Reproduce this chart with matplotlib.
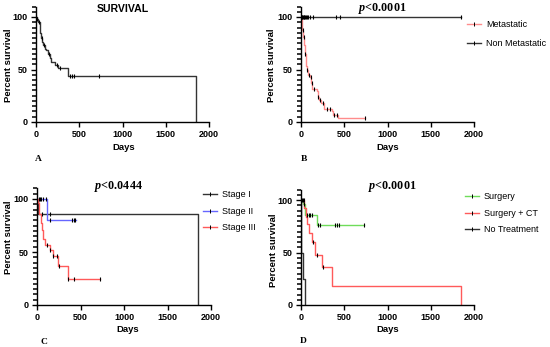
import numpy as np
import matplotlib
matplotlib.use("Agg")
import matplotlib.pyplot as plt
from matplotlib.lines import Line2D
from matplotlib.ticker import MultipleLocator, FixedLocator

plt.rcParams['font.family'] = ['Liberation Sans', 'DejaVu Sans']
plt.rcParams['mathtext.fontset'] = 'custom'
plt.rcParams['mathtext.it'] = 'Liberation Serif:italic:bold'
plt.rcParams['mathtext.rm'] = 'Liberation Serif:bold'

# ---------------- data ----------------
# Panel A: overall survival
a_times = [0, 10, 25, 46, 58, 70, 84, 106, 120, 139, 162, 177, 220, 254, 373, 1850]
a_surv = [100, 98, 95, 84.4, 80, 76, 73, 70, 68.6, 65, 61, 57, 54, 51, 43.8, 0]
a_cens = [5, 15, 35, 65, 95, 150, 240, 277, 390, 416, 439, 728]

# Panel B
b_met_times = [0, 8, 15, 27, 38, 46, 58, 65, 85, 104, 116, 131, 181, 193, 208, 231, 270, 355, 374, 432, 735]
b_met_surv = [100, 94, 88, 81, 73, 65, 53, 49.5, 45, 43, 37, 31, 29.6, 24, 21, 18, 12, 10, 7, 3.6, 3.6]
b_met_cens = [20, 33, 50, 70, 95, 110, 125, 150, 200, 220, 250, 300, 330, 380, 420, 735]
b_non_times = [0, 1850]
b_non_surv = [100, 100]
b_non_cens = [8, 15, 22, 30, 38, 45, 55, 65, 80, 100, 140, 400, 450, 1850]

# Panel C
c1_times = [0, 12, 1850]
c1_surv = [100, 85.7, 0]
c1_cens = [60, 150]
c2_times = [0, 111, 450]
c2_surv = [100, 80, 80]
c2_cens = [20, 35, 50, 70, 100, 150, 400, 420, 440]
c3_times = [0, 15, 27, 42, 54, 65, 92, 149, 180, 245, 360, 724]
c3_surv = [100, 96, 86, 77, 71, 62, 57, 52, 46, 37, 24.5, 24.5]
c3_cens = [111, 150, 180, 226, 250, 360, 425, 724]

# Panel D
d1_times = [0, 25, 46, 185, 732]
d1_surv = [100, 96, 85.7, 76, 76]
d1_cens = [10, 20, 35, 69, 89, 104, 123, 193, 220, 397, 412, 435, 732]
d2_times = [0, 40, 58, 73, 96, 123, 162, 247, 362, 1850]
d2_surv = [100, 92, 84, 77, 69, 60, 48, 36, 18, 0]
d2_cens = [30, 140, 180, 260]
d3_times = [0, 3, 27, 50]
d3_surv = [100, 50, 25, 0]

x_ticks = [0, 500, 1000, 1500, 2000]
y_ticks = [0, 50, 100]
y_minor_step = 5

COL_BLACK = '#333333'
COL_PINK = '#ff8c8c'
COL_BLUE = '#6666ff'
COL_RED = '#ff5a5a'
COL_GREEN = '#6fdc5a'

W, H = 550, 347
fig = plt.figure(figsize=(W / 100, H / 100), dpi=100)


def px_axes(left, right, y0, ymax_px_per_unit):
    h = 110 * ymax_px_per_unit
    return fig.add_axes([left / W, 1 - y0 / H, (right - left) / W, h / H])


def surv_at(times, surv, t):
    idx = np.searchsorted(times, t, side='right') - 1
    return np.asarray(surv)[idx]


def km(ax, times, surv, cens, color):
    ax.step(times, surv, where='post', color=color, lw=1.0, zorder=2)
    if cens:
        ax.plot(cens, surv_at(times, surv, cens), ls='none', marker='|',
                color='k', ms=3.0, mew=0.8, zorder=3)


def style(ax):
    ax.set_xlim(0, 2000)
    ax.set_ylim(0, 110)
    for s in ['top', 'right']:
        ax.spines[s].set_visible(False)
    for s in ['left', 'bottom']:
        ax.spines[s].set_linewidth(1.0)
    ax.xaxis.set_major_locator(FixedLocator(x_ticks))
    ax.yaxis.set_major_locator(FixedLocator(y_ticks))
    ax.yaxis.set_minor_locator(MultipleLocator(y_minor_step))
    ax.tick_params(axis='both', which='major', length=3.8, width=1.0,
                   labelsize=6.5, pad=2)
    ax.tick_params(axis='y', which='minor', left=True, length=3.2, width=1.1,
                   color='black')
    for lab in ax.get_xticklabels() + ax.get_yticklabels():
        lab.set_fontweight('bold')
    ax.patch.set_alpha(0)


def legend(ax, labels, colors, x, y, spacing):
    handles = [Line2D([], [], color=c, lw=1.0, marker='|', mec='k', ms=2.5, mew=0.7)
               for c in colors]
    ax.legend(handles, labels, loc='upper left', bbox_to_anchor=(x / W, 1 - y / H),
              bbox_transform=fig.transFigure, frameon=False, fontsize=6.5,
              handlelength=1.6, handletextpad=0.5, labelspacing=spacing,
              borderpad=0, borderaxespad=0, numpoints=1)


# Panel A
axA = px_axes(36, 209, 122, 1.05)
km(axA, a_times, a_surv, a_cens, COL_BLACK)
style(axA)

# Panel B
axB = px_axes(301, 474, 122, 1.05)
km(axB, b_met_times, b_met_surv, b_met_cens, COL_PINK)
km(axB, b_non_times, b_non_surv, b_non_cens, COL_BLACK)
style(axB)
legend(axB, ['Metastatic', 'Non Metastatic'], [COL_PINK, COL_BLACK], 467, 20, 1.1)

# Panel C
axC = px_axes(37, 211, 305, 1.06)
km(axC, c1_times, c1_surv, c1_cens, COL_BLACK)
km(axC, c2_times, c2_surv, c2_cens, COL_BLUE)
km(axC, c3_times, c3_surv, c3_cens, COL_RED)
style(axC)
legend(axC, ['Stage I', 'Stage II', 'Stage III'], [COL_BLACK, COL_BLUE, COL_RED], 203, 190, 0.85)

# Panel D
axD = px_axes(301, 474, 305, 1.05)
km(axD, d1_times, d1_surv, d1_cens, COL_GREEN)
km(axD, d2_times, d2_surv, d2_cens, COL_RED)
km(axD, d3_times, d3_surv, [], COL_BLACK)
style(axD)
legend(axD, ['Surgery', 'Surgery + CT', 'No Treatment'], [COL_GREEN, COL_RED, COL_BLACK], 465, 192, 0.85)


def ftext(x, y, s, **kw):
    fig.text(x / W, 1 - y / H, s, ha='center', va='center', **kw)


ftext(123, 9, 'SURVIVAL', fontsize=7.6, fontweight='bold')
ptitle = dict(fontsize=8.7, fontweight='bold', family='Liberation Serif')
ftext(382, 8, r'$p$<0.0001', **ptitle)
ftext(118, 186, r'$p$<0.0444', **ptitle)
ftext(392, 186, r'$p$<0.0001', **ptitle)

lab = dict(fontsize=6.8, fontweight='bold')
for (x, y) in [(9, 65), (272, 65), (9, 237), (273, 250)]:
    ftext(x, y, 'Percent survival', rotation=90, **lab)
for (x, y) in [(124, 148), (388, 148), (128, 330), (388, 330)]:
    ftext(x, y, 'Days', **lab)

letter = dict(fontsize=6.8, fontweight='bold', family='Liberation Serif')
ftext(38, 159, 'A', **letter)
ftext(304, 159, 'B', **letter)
ftext(44, 342, 'C', **letter)
ftext(303, 341, 'D', **letter)

fig.savefig('out.png', dpi=100)
